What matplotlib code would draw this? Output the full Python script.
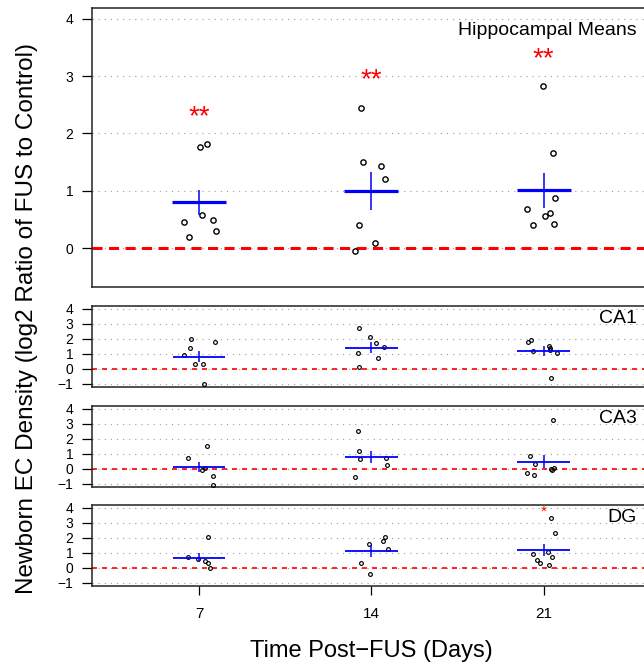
import matplotlib
matplotlib.use("Agg")
import matplotlib.pyplot as plt

plt.rcParams['font.family'] = ['Liberation Sans', 'DejaVu Sans']

# ---------------- data ----------------
days = [7, 14, 21]
day_labels = ["7", "14", "21"]

# Hippocampal means (top panel)
hip_vals = [[1.77, 1.81, 0.46, 0.58, 0.50, 0.30, 0.19],
            [2.44, 1.50, 1.43, 1.21, 0.41, 0.09, -0.05],
            [2.82, 1.66, 0.88, 0.68, 0.62, 0.56, 0.41, 0.42]]
hip_jit = [[0.05, 0.34, -0.63, 0.11, 0.57, 0.68, -0.42],
           [-0.42, -0.33, 0.41, 0.57, -0.52, 0.15, -0.65],
           [-0.01, 0.37, 0.46, -0.67, 0.24, 0.06, -0.43, 0.43]]
hip_mean = [0.80, 1.00, 1.01]
hip_se = [0.22, 0.33, 0.30]
hip_star_y = [2.40, 3.04, 3.41]
hip_stars = ["**", "**", "**"]

# CA1
ca1_vals = [[1.97, 1.37, 1.78, 0.93, 0.33, 0.31, -1.03],
            [2.75, 2.09, 1.73, 1.44, 1.07, 0.73, 0.13],
            [1.82, 1.95, 1.20, 1.53, 1.40, 1.27, 1.04, -0.63]]
ca1_jit = [[-0.34, -0.35, 0.63, -0.63, -0.15, 0.17, 0.19],
           [-0.49, -0.07, 0.17, 0.53, -0.53, 0.29, -0.50],
           [-0.63, -0.52, -0.45, 0.23, 0.24, 0.26, 0.54, 0.30]]
ca1_mean = [0.82, 1.42, 1.17]
ca1_se = [0.38, 0.35, 0.33]

# CA3
ca3_vals = [[1.55, 0.71, -0.09, 0.04, -0.47, -1.07],
            [2.49, 1.20, 0.67, 0.71, 0.27, -0.53],
            [3.27, 0.84, 0.31, -0.29, -0.43, 0.07, -0.09, 0.00]]
ca3_jit = [[0.34, -0.45, 0.11, 0.22, 0.56, 0.56],
           [-0.53, -0.50, -0.45, 0.59, 0.63, -0.65],
           [0.40, -0.54, -0.36, -0.66, -0.41, 0.42, 0.33, 0.32]]
ca3_mean = [0.11, 0.80, 0.47]
ca3_se = [0.35, 0.40, 0.43]

# DG
dg_vals = [[2.04, 0.70, 0.58, 0.45, 0.34, -0.02],
           [1.57, 2.04, 1.77, 1.23, 0.34, -0.40],
           [3.32, 2.33, 0.94, 1.03, 0.72, 0.54, 0.30, 0.16]]
dg_jit = [[0.38, -0.44, -0.05, 0.24, 0.35, 0.45],
          [-0.10, 0.54, 0.48, 0.69, -0.41, -0.06],
          [0.30, 0.47, -0.42, 0.19, 0.36, -0.26, -0.16, 0.20]]
dg_mean = [0.67, 1.12, 1.17]
dg_se = [0.30, 0.37, 0.40]
dg_star_day = [21]
dg_star_y = [3.92]

panel_names = ["Hippocampal Means", "CA1", "CA3", "DG"]

# ---------------- layout ----------------
W, H = 644, 665
fig = plt.figure(figsize=(W / 100, H / 100), dpi=100)

left_px, right_px = 92.3, 650.4
panels_px = [(8.3, 287.3), (305.7, 387.0), (406.0, 486.5), (504.5, 586.0)]
label_base_px = [26.7, 17.6, 16.7, 17.8]

def make_ax(top, bottom):
    return fig.add_axes([left_px / W, 1 - bottom / H,
                         (right_px - left_px) / W, (bottom - top) / H])

xlim = (2.66, 25.34)
grid_kw = dict(color="#9a9a9a", lw=0.8, ls=(0, (1, 4.5)), zorder=1)

datasets = [
    (hip_vals, hip_jit, hip_mean, hip_se),
    (ca1_vals, ca1_jit, ca1_mean, ca1_se),
    (ca3_vals, ca3_jit, ca3_mean, ca3_se),
    (dg_vals, dg_jit, dg_mean, dg_se),
]

axes = []
for i, ((top, bottom), (vals, jit, mean, se)) in enumerate(zip(panels_px, datasets)):
    ax = make_ax(top, bottom)
    axes.append(ax)
    big = (i == 0)
    if big:
        ylim = (-0.68, 4.18)
        yt = [0, 1, 2, 3, 4]
    else:
        ylim = (-1.2, 4.2)
        yt = [-1, 0, 1, 2, 3, 4]
    ax.set_xlim(*xlim)
    ax.set_ylim(*ylim)
    for g in yt:
        ax.axhline(g, **grid_kw)
    if big:
        ax.axhline(0, color="red", lw=2.2, ls=(0, (3.3, 2.1)), zorder=2)
    else:
        ax.axhline(0, color="red", lw=1.2, ls=(0, (3.0, 3.0)), zorder=2)

    ms = 3.8 if big else 2.7
    mew = 1.0 if big else 0.85
    for d, v, j in zip(days, vals, jit):
        ax.plot([d + o for o in j], v, ls="none", marker="o", ms=ms,
                mfc="none", mec="black", mew=mew, zorder=3)
    hw = 1.1 if big else 1.07
    for d, m, s in zip(days, mean, se):
        ax.hlines(m, d - hw, d + hw, color="blue", lw=2.3 if big else 1.3, zorder=4)
        ax.vlines(d, m - s, m + s, color="blue", lw=1.1, zorder=4)

    ax.set_yticks(yt)
    ax.set_yticklabels([str(t).replace("-", "\u2212") for t in yt])
    ax.tick_params(axis="y", length=7.2, width=0.9, pad=6.5, labelsize=10, direction="out")
    if i == 3:
        ax.set_xticks(days)
        ax.set_xticklabels(day_labels)
        ax.tick_params(axis="x", length=6.5, width=0.9, pad=8.5, labelsize=11, direction="out")
    else:
        ax.set_xticks([])
    for sp in ax.spines.values():
        sp.set_linewidth(1.1)
        sp.set_color("#222222")

    ph = bottom - top
    ax.text((637 - left_px) / (right_px - left_px), 1 - label_base_px[i] / ph,
            panel_names[i], transform=ax.transAxes, ha="right", va="baseline",
            fontsize=14, color="black")

# significance stars
for d, y, s in zip(days, hip_star_y, hip_stars):
    axes[0].annotate(s, (d, y), xytext=(0, -4.5), textcoords="offset points",
                     ha="center", va="center", color="red", fontsize=20, zorder=5)
for d, y in zip(dg_star_day, dg_star_y):
    axes[3].annotate("*", (d, y), xytext=(0, -2.5), textcoords="offset points",
                     ha="center", va="center", color="red", fontsize=11, zorder=5,
                     annotation_clip=False)

fig.text(371.3 / W, 1 - 656.7 / H, "Time Post\u2212FUS (Days)", ha="center",
         va="baseline", fontsize=17)
fig.text(27 / W, 1 - 318 / H, "Newborn EC Density (log2 Ratio of FUS to Control)",
         rotation=90, ha="center", va="center", fontsize=17.5)

fig.savefig("out.png", dpi=100)
